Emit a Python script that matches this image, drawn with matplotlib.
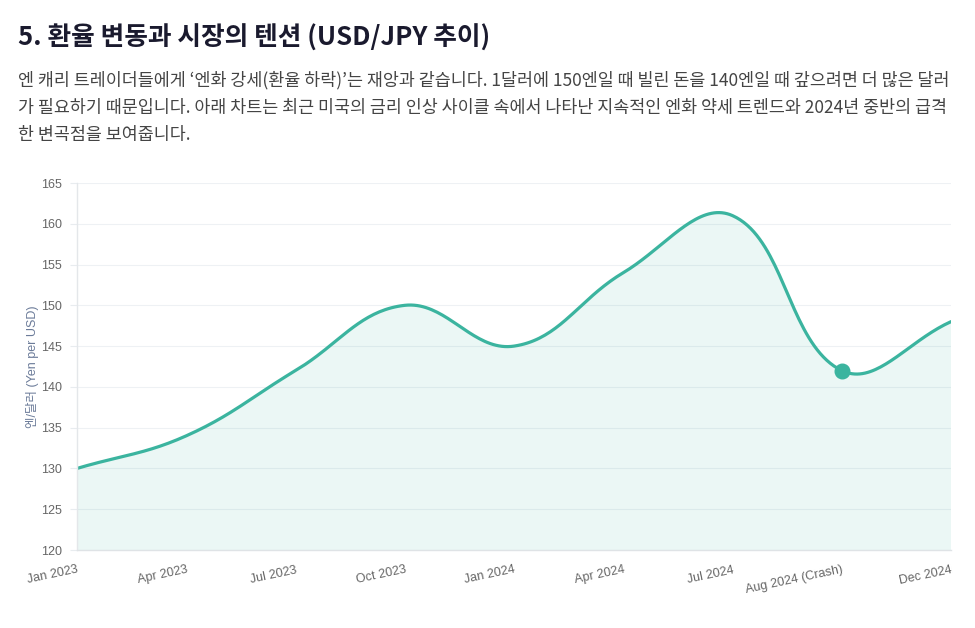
import numpy as np
import matplotlib.pyplot as plt

months = ['Jan 2023', 'Apr 2023', 'Jul 2023', 'Oct 2023', 'Jan 2024',
          'Apr 2024', 'Jul 2024', 'Aug 2024 (Crash)', 'Dec 2024']
usd_jpy = [130, 134, 142, 150, 145, 154, 161, 142, 148]
crash_idx = 7

title = '5. 환율 변동과 시장의 텐션 (USD/JPY 추이)'
desc_lines = [
    '엔 캐리 트레이더들에게 ‘엔화 강세(환율 하락)’는 재앙과 같습니다. 1달러에 150엔일 때 빌린 돈을 140엔일 때 갚으려면 더 많은 달러',
    '가 필요하기 때문입니다. 아래 차트는 최근 미국의 금리 인상 사이클 속에서 나타난 지속적인 엔화 약세 트렌드와 2024년 중반의 급격',
    '한 변곡점을 보여줍니다.',
]

LINE = '#3bb49f'
KR = ['Noto Sans CJK KR', 'DejaVu Sans']
LAT = ['Liberation Sans', 'Noto Sans CJK KR']


def spline_points(px, py, tension=0.4, steps=40):
    # chart.js style bezier control points, in pixel space
    n = len(px)
    cp = []
    for i in range(n):
        p0 = (px[max(i - 1, 0)], py[max(i - 1, 0)])
        p1 = (px[i], py[i])
        p2 = (px[min(i + 1, n - 1)], py[min(i + 1, n - 1)])
        d01 = np.hypot(p1[0] - p0[0], p1[1] - p0[1])
        d12 = np.hypot(p2[0] - p1[0], p2[1] - p1[1])
        s01 = d01 / (d01 + d12) if d01 + d12 else 0
        s12 = d12 / (d01 + d12) if d01 + d12 else 0
        fa, fb = tension * s01, tension * s12
        prev = (p1[0] - fa * (p2[0] - p0[0]), p1[1] - fa * (p2[1] - p0[1]))
        nxt = (p1[0] + fb * (p2[0] - p0[0]), p1[1] + fb * (p2[1] - p0[1]))
        cp.append((prev, nxt))
    xs, ys = [], []
    t = np.linspace(0, 1, steps)
    for i in range(n - 1):
        a = np.array([px[i], py[i]])
        b = np.array(cp[i][1])
        c = np.array(cp[i + 1][0])
        d = np.array([px[i + 1], py[i + 1]])
        pts = ((1 - t) ** 3)[:, None] * a + (3 * (1 - t) ** 2 * t)[:, None] * b \
            + (3 * (1 - t) * t ** 2)[:, None] * c + (t ** 3)[:, None] * d
        xs.extend(pts[:, 0])
        ys.extend(pts[:, 1])
    return np.array(xs), np.array(ys)


fig = plt.figure(figsize=(9.75, 6.28), dpi=100)
ax = fig.add_axes([77 / 975, 1 - 550 / 628, (951 - 77) / 975, (550 - 183) / 628])

x = np.arange(len(months))
ax.set_xlim(0, len(months) - 1)
ax.set_ylim(120, 165)

fig.canvas.draw()
disp = ax.transData.transform(np.column_stack([x, usd_jpy]))
sx, sy = spline_points(disp[:, 0], disp[:, 1])
curve = ax.transData.inverted().transform(np.column_stack([sx, sy]))

ax.fill(np.concatenate([curve[:, 0], [x[-1], x[0]]]),
        np.concatenate([curve[:, 1], [120, 120]]),
        color=LINE, alpha=0.1, lw=0)
ax.plot(curve[:, 0], curve[:, 1], color=LINE, lw=2.3, solid_capstyle='round')
ax.plot(x[crash_idx], usd_jpy[crash_idx], 'o', color=LINE, markersize=10.5)

ax.set_yticks(np.arange(120, 166, 5))
ax.set_xticks(x)
ax.set_xticklabels(months, rotation=12, ha='right', rotation_mode='anchor',
                   fontsize=9, color='#666666', family=LAT)
for lab in ax.get_yticklabels():
    lab.set_fontsize(9)
    lab.set_color('#666666')
    lab.set_family(LAT)
ax.tick_params(axis='y', length=5, width=0.8, color='#e8ecef', pad=6)
ax.tick_params(axis='x', length=0, pad=10)
ax.grid(axis='y', color='#eef1f4', lw=0.8)
ax.set_axisbelow(True)
for side in ['top', 'right']:
    ax.spines[side].set_visible(False)
ax.spines['left'].set_color('#e4e7ea')
ax.spines['bottom'].set_color('#dfe3e6')
ax.spines['left'].set_linewidth(1.0)
ax.spines['bottom'].set_linewidth(1.0)
ax.set_ylabel('엔/달러 (Yen per USD)', fontsize=9, color='#6b7b99', family=LAT, labelpad=1)

fig.text(18 / 975, 1 - 38 / 628, title, fontsize=18.5, fontweight='bold',
         color='#1a1a2e', family=KR, va='center', ha='left')
for i, line in enumerate(desc_lines):
    fig.text(18 / 975, 1 - (80 + i * 27.5) / 628, line, fontsize=12.5, color='#444444',
             family=KR, va='center', ha='left')

fig.savefig('out.png', dpi=100, facecolor='white')
